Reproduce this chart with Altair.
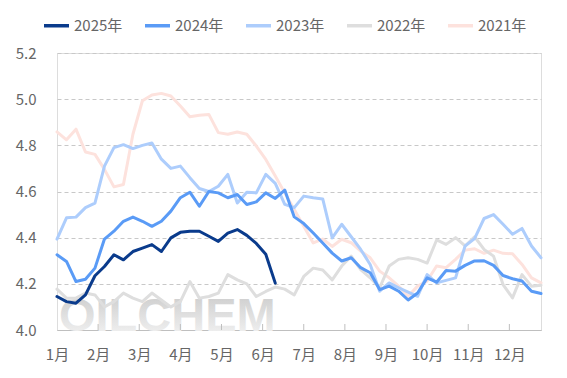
import json
import altair as alt
import pandas as pd

series_names = ["2025年", "2024年", "2023年", "2022年", "2021年"]
series_colors = ["#0A3B8C", "#5A9BF6", "#ADCDFC", "#DEDEDE", "#FDE2DD"]

y2025 = [4.145, 4.123, 4.116, 4.152, 4.235, 4.275, 4.326, 4.304, 4.34, 4.355,
         4.37, 4.34, 4.399, 4.423, 4.428, 4.428, 4.406, 4.384, 4.42, 4.435,
         4.41, 4.375, 4.328, 4.203]
y2024 = [4.326, 4.297, 4.21, 4.22, 4.268, 4.394, 4.428, 4.471, 4.489, 4.471,
         4.449, 4.471, 4.515, 4.573, 4.597, 4.536, 4.60, 4.594, 4.573, 4.587,
         4.544, 4.555, 4.594, 4.57, 4.606, 4.49, 4.461, 4.42, 4.377, 4.333,
         4.299, 4.313, 4.27, 4.248, 4.175, 4.19, 4.168, 4.13, 4.16, 4.226,
         4.207, 4.258, 4.255, 4.28, 4.299, 4.30, 4.28, 4.236, 4.222, 4.212, 4.168, 4.158]
y2023 = [4.394, 4.486, 4.489, 4.53, 4.55, 4.71, 4.79, 4.803, 4.786, 4.80,
         4.81, 4.74, 4.70, 4.71, 4.66, 4.613, 4.60, 4.623, 4.674, 4.55,
         4.597, 4.594, 4.674, 4.635, 4.544, 4.53, 4.58, 4.573, 4.568, 4.399,
         4.458, 4.404, 4.349, 4.284, 4.168, 4.204, 4.183, 4.164, 4.146, 4.24,
         4.204, 4.215, 4.226, 4.364, 4.396, 4.483, 4.50, 4.458, 4.415, 4.44, 4.364, 4.313]
y2022 = [4.177, 4.138, 4.138, 4.16, 4.152, 4.10, 4.123, 4.16, 4.138, 4.123,
         4.16, 4.13, 4.10, 4.123, 4.21, 4.138, 4.145, 4.16, 4.24, 4.217,
         4.20, 4.145, 4.167, 4.186, 4.177, 4.152, 4.232, 4.268, 4.26, 4.217,
         4.277, 4.32, 4.262, 4.226, 4.183, 4.277, 4.306, 4.313, 4.306, 4.29,
         4.39, 4.371, 4.40, 4.364, 4.404, 4.349, 4.32, 4.197, 4.139, 4.24, 4.19, 4.194]
y2021 = [4.858, 4.824, 4.87, 4.771, 4.761, 4.696, 4.62, 4.63, 4.848, 4.993,
         5.018, 5.025, 5.014, 4.97, 4.924, 4.93, 4.934, 4.855, 4.848, 4.858,
         4.848, 4.797, 4.739, 4.667, 4.594, 4.522, 4.449, 4.377, 4.394, 4.362,
         4.393, 4.378, 4.342, 4.313, 4.255, 4.226, 4.19, 4.146, 4.19, 4.212,
         4.277, 4.27, 4.306, 4.346, 4.352, 4.332, 4.346, 4.332, 4.33, 4.284, 4.226, 4.204]

month_labels = ["1月", "2月", "3月", "4月", "5月", "6月", "7月", "8月", "9月", "10月", "11月", "12月"]
y_ticks = [4.0, 4.2, 4.4, 4.6, 4.8, 5.0, 5.2]

weeks_per_month = 52 / 12
month_pos = [i * weeks_per_month for i in range(12)]

rows = []
for name, vals in zip(series_names, [y2025, y2024, y2023, y2022, y2021]):
    for i, v in enumerate(vals):
        rows.append({"week": i, "value": v, "year": name})
df = pd.DataFrame(rows)

W, H = 484, 277
FONT = "Noto Sans CJK SC"

label_expr = json.dumps(month_labels, ensure_ascii=False) + f"[round(datum.value / {weeks_per_month})]"

x_scale = alt.Scale(domain=[0, 51], nice=False, zero=False)
y_scale = alt.Scale(domain=[4.0, 5.2], nice=False, zero=False)

x_enc = alt.X("week:Q", scale=x_scale, title=None,
              axis=alt.Axis(values=month_pos, labelExpr=label_expr, grid=False, ticks=False,
                            domainColor="#BFBFBF", domainWidth=1, labelColor="#666666",
                            labelFontSize=15, labelFont=FONT, labelPadding=17,
                            labelFlush=False, labelOverlap=False))
y_enc = alt.Y("value:Q", scale=y_scale, title=None,
              axis=alt.Axis(values=y_ticks, format=".1f", grid=True, gridDash=[4, 3],
                            gridColor="#C8C8C8", gridWidth=1, domain=False, ticks=False,
                            labelColor="#666666", labelFontSize=15, labelFont=FONT,
                            labelPadding=21))
color_enc = alt.Color("year:N", title=None,
                      scale=alt.Scale(domain=series_names, range=series_colors),
                      legend=alt.Legend(orient="none", legendX=-15, legendY=-42,
                                        direction="horizontal", columns=5,
                                        symbolType="stroke", symbolSize=625,
                                        symbolStrokeWidth=3.5, labelFontSize=15,
                                        labelFont=FONT, labelColor="#666666",
                                        labelOffset=3, columnPadding=15, padding=0))

watermark = alt.Chart(pd.DataFrame({"t": ["OILCHEM"]})).mark_text(
    align="left", baseline="bottom", fontSize=47, fontWeight="bold",
    font="Liberation Sans",
    color=alt.LinearGradient(gradient="linear", x1=0, x2=0, y1=0, y2=1,
                             stops=[alt.GradientStop(color="#C8C8C8", offset=0),
                                    alt.GradientStop(color="#F6F6F6", offset=1)])
).encode(x=alt.value(2), y=alt.value(H + 11), text="t:N")

tick_df = pd.DataFrame({"week": month_pos[1:]})
ticks = alt.Chart(tick_df).mark_rule(color="#BFBFBF", strokeWidth=1).encode(
    x=alt.X("week:Q", scale=x_scale, title=None), y=alt.value(H - 6), y2=alt.value(H))

layers = [watermark, ticks]
for name in reversed(series_names):
    layers.append(
        alt.Chart(df).transform_filter(alt.datum.year == name)
        .mark_line(strokeWidth=3, strokeJoin="round", strokeCap="round")
        .encode(x=x_enc, y=y_enc, color=color_enc)
    )

chart = alt.layer(*layers).properties(
    width=W, height=H,
    autosize=alt.AutoSizeParams(type="none"),
    padding={"left": 49, "top": 45, "right": 18, "bottom": 40},
).configure_view(stroke=None).configure(font=FONT)

chart.save("out.html", embed_options={"renderer": "svg", "actions": False})
